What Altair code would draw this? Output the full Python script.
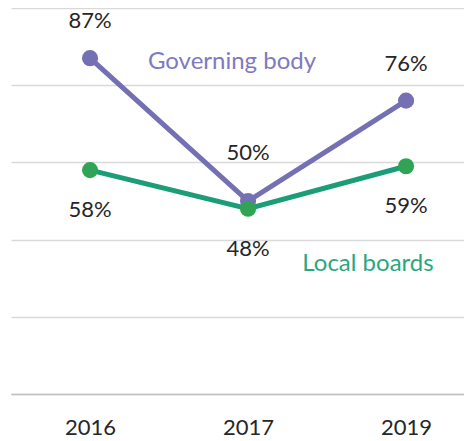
import altair as alt
import pandas as pd

years = ["2016", "2017", "2019"]
governing_body = [87, 50, 76]
local_boards = [58, 48, 59]
series_names = ["Governing body", "Local boards"]
y_ticks = [0, 20, 40, 60, 80, 100]

rows = []
for name, vals in zip(series_names, [governing_body, local_boards]):
    for yr, v in zip(years, vals):
        rows.append({"year": yr, "value": v, "series": name, "label": f"{v}%"})
df = pd.DataFrame(rows)

PURPLE = "#7570B3"
GREEN_LINE = "#1B9E77"
GREEN_PT = "#31A354"
FONT = "Lato"

x_enc = alt.X("year:N", sort=years,
              scale=alt.Scale(type="point", padding=0.4335, align=0.577),
              axis=alt.Axis(title=None, labelAngle=0, labelFontSize=22, labelFont=FONT,
                            labelColor="#262626", ticks=False, domainColor="#BFBFBF",
                            domainWidth=1.5, labelPadding=23, grid=False))
y_enc = alt.Y("value:Q", scale=alt.Scale(domain=[0, 100], nice=False),
              axis=alt.Axis(title=None, labels=False, ticks=False, domain=False,
                            values=y_ticks, gridColor="#D9D9D9", gridWidth=1.5))

base = alt.Chart(df)

gb = base.transform_filter(alt.datum.series == "Governing body")
lb = base.transform_filter(alt.datum.series == "Local boards")

gb_line = gb.mark_line(color=PURPLE, strokeWidth=5).encode(x=x_enc, y=y_enc)
lb_line = lb.mark_line(color=GREEN_LINE, strokeWidth=5).encode(x=x_enc, y=y_enc)
gb_pts = gb.mark_circle(color=PURPLE, size=260, opacity=1).encode(x=x_enc, y=y_enc)
lb_pts = lb.mark_circle(color=GREEN_PT, size=260, opacity=1).encode(x=x_enc, y=y_enc)

txt = dict(font=FONT, fontSize=22, color="#262626", baseline="middle", align="center")
gb_lab = gb.transform_filter(alt.datum.year != "2017").mark_text(dy=-37, **txt).encode(
    x=x_enc, y=y_enc, text="label:N")
gb_lab_mid = gb.transform_filter(alt.datum.year == "2017").mark_text(dy=-48, **txt).encode(
    x=x_enc, y=y_enc, text="label:N")
lb_lab = lb.mark_text(dy=40, **txt).encode(x=x_enc, y=y_enc, text="label:N")

ann_gb = alt.Chart(pd.DataFrame({"t": ["Governing body"]})).mark_text(
    font=FONT, fontSize=24, color="#7F7AC0", baseline="middle", align="center").encode(
    text="t:N", x=alt.value(221), y=alt.value(54))
ann_lb = alt.Chart(pd.DataFrame({"t": ["Local boards"]})).mark_text(
    font=FONT, fontSize=24, color="#2BA77F", baseline="middle", align="center").encode(
    text="t:N", x=alt.value(357), y=alt.value(256))

chart = alt.layer(gb_line, lb_line, gb_pts, lb_pts, gb_lab, gb_lab_mid, lb_lab, ann_gb, ann_lb).properties(
    width=453, height=386,
    background="white",
    padding={"left": 3, "top": 0, "right": 0, "bottom": 0},
).configure_view(stroke="transparent", strokeWidth=0).configure_axisY(
    domain=False, ticks=False
).configure_axisX(grid=False)

chart.save("out.html", embed_options={"renderer": "svg", "actions": False})
